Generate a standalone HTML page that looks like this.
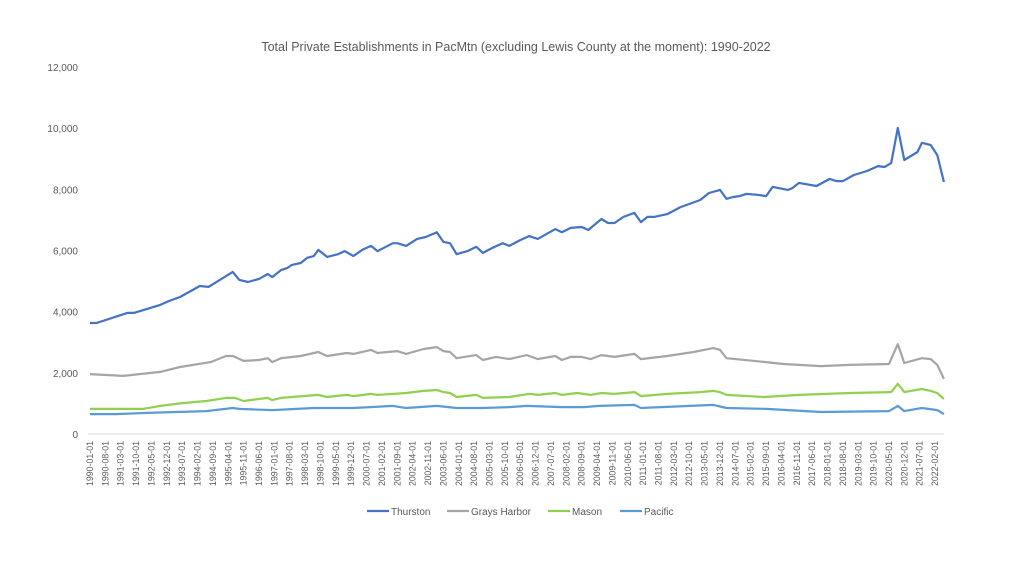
<!DOCTYPE html>
<html><head><meta charset="utf-8"><style>
body{margin:0;background:#fff;font-family:"Liberation Sans",sans-serif}
svg text{font-family:"Liberation Sans",sans-serif;fill:#595959}
</style></head><body>
<svg id="chart" width="1024" height="576" viewBox="0 0 1024 576">
<rect width="1024" height="576" fill="#fff"/>
<text x="516" y="51" text-anchor="middle" font-size="12.5">Total Private Establishments in PacMtn (excluding Lewis County at the moment): 1990-2022</text>
<g id="yaxis"></g>
<g id="xaxis"></g>
<g id="series"></g>
<g id="legend"></g>
</svg>
<script>
// months since 1990-01
const thurstonMonths=[0,3,17,20,32,36,41,50,54,65,68,72,77,81,83,87,90,92,96,99,102,104,108,113,116,120,124,128,131,138,140,144,149,153,158,161,164,167,172,176,179,184,188,191,196,200,204,212,215,219,224,227,233,236,239,243,248,251,254,257,263,269,278,282,287,290,293,296,299,304,308,311,318,320,323,331,337,340,343,348,354,359,362,365,368,371,377,379,383,386,389];
const thurstonValues=[3630,3630,3960,3960,4220,4350,4480,4840,4810,5300,5040,4970,5070,5230,5130,5360,5430,5530,5590,5760,5820,6020,5790,5880,5980,5820,6020,6150,5980,6240,6240,6150,6380,6440,6600,6280,6240,5880,5980,6120,5920,6110,6240,6150,6340,6470,6380,6700,6600,6740,6770,6670,7030,6900,6900,7100,7230,6930,7100,7100,7190,7420,7650,7880,7980,7690,7750,7780,7850,7820,7780,8080,7980,8040,8210,8110,8340,8270,8270,8470,8600,8760,8730,8860,10010,8960,9220,9520,9450,9120,8240];
const graysMonths=[0,15,32,41,55,62,65,70,77,81,83,87,96,104,108,117,120,128,131,140,144,152,158,161,164,167,176,179,185,191,199,204,212,215,219,224,228,233,239,248,251,263,275,284,287,290,308,316,333,346,364,368,371,379,383,386,389];
const graysValues=[1960,1900,2030,2190,2350,2550,2550,2390,2420,2480,2350,2480,2550,2680,2550,2650,2620,2750,2650,2710,2620,2780,2840,2710,2680,2480,2580,2420,2520,2450,2580,2450,2550,2420,2520,2520,2450,2580,2520,2620,2450,2550,2680,2810,2750,2480,2350,2290,2220,2260,2290,2940,2320,2480,2450,2260,1800];
const masonMonths=[0,12,24,32,42,53,62,66,70,81,83,87,104,108,117,120,128,131,144,152,158,161,164,167,176,179,191,200,204,212,215,222,228,233,239,248,251,263,278,284,287,290,307,323,346,365,368,371,379,383,386,389];
const masonValues=[820,820,820,920,1010,1080,1180,1180,1080,1180,1110,1180,1280,1210,1280,1240,1310,1280,1340,1410,1440,1370,1340,1210,1280,1180,1210,1310,1280,1340,1280,1340,1280,1340,1310,1370,1240,1310,1370,1410,1370,1280,1210,1280,1340,1370,1640,1370,1470,1410,1340,1140];
const pacificMonths=[0,12,26,53,65,68,83,102,120,138,144,158,167,179,191,199,215,225,232,248,251,284,290,308,333,364,368,371,379,386,389];
const pacificValues=[650,650,690,750,850,820,780,850,850,920,850,920,850,850,880,920,880,880,920,950,850,950,850,820,720,750,920,750,850,780,650];
const yTicks=[0,2000,4000,6000,8000,10000,12000];
const yTickLabels=["0","2,000","4,000","6,000","8,000","10,000","12,000"];
const seriesNames=["Thurston","Grays Harbor","Mason","Pacific"];

const NS="http://www.w3.org/2000/svg";
const X0=90, MPX=2.195, Y0=434, YPX=367/12000;
const xs=m=>X0+m*MPX, ys=v=>Y0-v*YPX;
function mk(tag,attrs,parent){const e=document.createElementNS(NS,tag);for(const k in attrs)e.setAttribute(k,attrs[k]);parent.appendChild(e);return e;}
const yaxis=document.getElementById('yaxis'),xaxis=document.getElementById('xaxis'),sg=document.getElementById('series'),lg=document.getElementById('legend');
yTicks.forEach((t,i)=>{
  const tx=mk('text',{x:78,y:ys(t)+4,'text-anchor':'end','font-size':'10'},yaxis);
  
  
  tx.textContent=yTickLabels[i];
});
const base=mk('line',{x1:88,x2:944,y1:Y0,y2:Y0,stroke:'#d9d9d9','stroke-width':1},xaxis);


for(let m=0;m<=385;m+=7){
  const yr=1990+Math.floor(m/12),mo=m%12+1;
  const lbl=yr+'-'+String(mo).padStart(2,'0')+'-01';
  const x=xs(m)+3;
  const t=mk('text',{x:x,y:441,'font-size':'8.8','text-anchor':'end',transform:`rotate(-90 ${x} 441)`},xaxis);
  
  
  t.textContent=lbl;
}
const colors=["#4472c4","#a5a5a5","#8fd14f","#5b9bd5"];
const data=[[thurstonMonths,thurstonValues],[graysMonths,graysValues],[masonMonths,masonValues],[pacificMonths,pacificValues]];
data.forEach((d,i)=>{
  const pts=d[0].map((m,j)=>xs(m).toFixed(1)+','+ys(d[1][j]).toFixed(1)).join(' ');
  const p=mk('polyline',{points:pts,fill:'none',stroke:colors[i],'stroke-width':2.2,'stroke-linejoin':'round'},sg);
  
  
});
const lx=[367,447,548,620];
seriesNames.forEach((n,i)=>{
  const g=mk('g',{},lg);
  
  
  mk('line',{x1:lx[i],x2:lx[i]+22,y1:511,y2:511,stroke:colors[i],'stroke-width':2.2},g);
  const t=mk('text',{x:lx[i]+24,y:515,'font-size':'10'},g);
  t.textContent=n;
});
</script>
</body></html>
